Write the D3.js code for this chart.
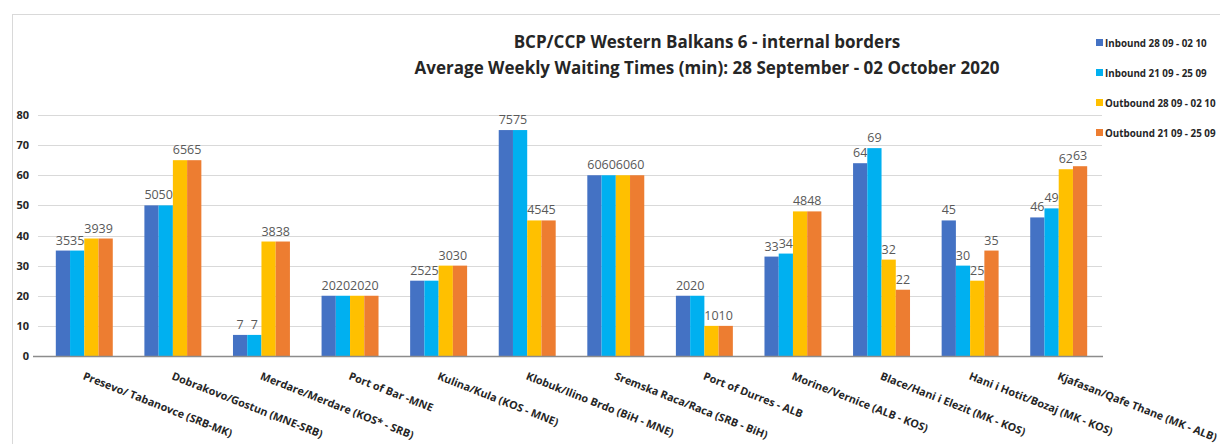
<!DOCTYPE html>
<html>
<head>
<meta charset="utf-8">
<script src="https://cdn.jsdelivr.net/npm/d3@7"></script>
<style>
  body { margin: 0; background: #fff; }
  text { font-family: "Open Sans", "Noto Sans", sans-serif; }
</style>
</head>
<body>
<div id="chart"></div>
<script>

var categories = [
    "Presevo/ Tabanovce (SRB-MK)",
    "Dobrakovo/Gostun (MNE-SRB)",
    "Merdare/Merdare (KOS* - SRB)",
    "Port of Bar -MNE",
    "Kulina/Kula (KOS - MNE)",
    "Klobuk/Ilino Brdo (BiH - MNE)",
    "Sremska Raca/Raca (SRB - BiH)",
    "Port of Durres - ALB",
    "Morine/Vernice (ALB - KOS)",
    "Blace/Hani i Elezit (MK - KOS)",
    "Hani i Hotit/Bozaj (MK - KOS)",
    "Kjafasan/Qafe Thane (MK - ALB)"
];

var seriesNames = [
    "Inbound 28 09 - 02 10",
    "Inbound 21 09 - 25 09",
    "Outbound 28 09 - 02 10",
    "Outbound 21 09 - 25 09"
];

var inbound1 = [35, 50, 7, 20, 25, 75, 60, 20, 33, 64, 45, 46];
var inbound2 = [35, 50, 7, 20, 25, 75, 60, 20, 34, 69, 30, 49];
var outbound1 = [39, 65, 38, 20, 30, 45, 60, 10, 48, 32, 25, 62];
var outbound2 = [39, 65, 38, 20, 30, 45, 60, 10, 48, 22, 35, 63];

var yTicks = [0, 10, 20, 30, 40, 50, 60, 70, 80];

var titleLines = [
    "BCP/CCP Western Balkans 6 - internal borders",
    "Average Weekly Waiting Times (min): 28 September - 02 October 2020"
];

var colors = ["#4472C4", "#00B0F0", "#FFC000", "#ED7D31"];

var width = 1220, height = 444;
var series = [inbound1, inbound2, outbound1, outbound2];

var svg = d3.select("#chart").append("svg")
    .attr("width", width)
    .attr("height", height);

// chart frame (only left and top edges visible)
svg.append("line")
    .attr("x1", 12.5).attr("x2", 12.5)
    .attr("y1", 14).attr("y2", height)
    .attr("stroke", "#d9d9d9");
svg.append("line")
    .attr("x1", 12).attr("x2", width)
    .attr("y1", 14.5).attr("y2", 14.5)
    .attr("stroke", "#d9d9d9");

var x0 = d3.scaleBand()
    .domain(categories)
    .range([40, 1103])
    .paddingInner(0.357)
    .paddingOuter(0.1785);

var x1 = d3.scaleBand()
    .domain(d3.range(series.length))
    .range([0, x0.bandwidth()]);

var y = d3.scaleLinear()
    .domain([0, 80])
    .range([356, 115]);

// gridlines
svg.append("g")
    .selectAll("line")
    .data(yTicks.slice(1))
    .enter().append("line")
    .attr("x1", 38).attr("x2", 1102)
    .attr("y1", function(d) { return Math.round(y(d)) + 0.5; })
    .attr("y2", function(d) { return Math.round(y(d)) + 0.5; })
    .attr("stroke", "#d9d9d9");

// y axis labels
var yAxis = d3.axisLeft(y)
    .tickValues(yTicks)
    .tickSize(0)
    .tickPadding(0);

svg.append("g")
    .attr("transform", "translate(29, 0)")
    .call(yAxis)
    .call(function(g) { g.select(".domain").remove(); })
    .selectAll("text")
    .attr("font-family", "Open Sans, sans-serif")
    .attr("font-size", 11)
    .attr("font-weight", "bold")
    .attr("fill", "#262626");

// bars
var groups = svg.append("g")
    .selectAll("g")
    .data(categories)
    .enter().append("g")
    .attr("transform", function(d) { return "translate(" + x0(d) + ",0)"; });

groups.selectAll("rect")
    .data(function(d, i) {
        return series.map(function(s, k) { return {k: k, v: s[i]}; });
    })
    .enter().append("rect")
    .attr("x", function(d) { return x1(d.k); })
    .attr("width", x1.bandwidth())
    .attr("y", function(d) { return y(d.v); })
    .attr("height", function(d) { return y(0) - y(d.v); })
    .attr("fill", function(d) { return colors[d.k]; });

groups.selectAll("text")
    .data(function(d, i) {
        return series.map(function(s, k) { return {k: k, v: s[i]}; });
    })
    .enter().append("text")
    .attr("x", function(d) { return x1(d.k) + x1.bandwidth() / 2; })
    .attr("y", function(d) { return y(d.v) - 6; })
    .attr("text-anchor", "middle")
    .attr("font-family", "Lato, sans-serif")
    .attr("font-size", 12.5)
    .attr("fill", "#595959")
    .text(function(d) { return d.v; });

// baseline
svg.append("line")
    .attr("x1", 33).attr("x2", 1103)
    .attr("y1", 356.5).attr("y2", 356.5)
    .attr("stroke", "#8c8c8c")
    .attr("stroke-width", 1.5);

// category labels
svg.append("g")
    .selectAll("text")
    .data(categories)
    .enter().append("text")
    .attr("transform", function(d) {
        return "translate(" + (x0(d) + x0.bandwidth() / 2 - 2) + ",379) rotate(21.5)";
    })
    .attr("font-family", "Lato, sans-serif")
    .attr("font-size", 10.8)
    .attr("font-weight", "bold")
    .attr("fill", "#262626")
    .text(function(d) { return d; });

// title
svg.append("g")
    .selectAll("text")
    .data(titleLines)
    .enter().append("text")
    .attr("x", 707)
    .attr("y", function(d, i) { return 48 + i * 26; })
    .attr("text-anchor", "middle")
    .attr("font-size", 17)
    .attr("font-weight", "bold")
    .attr("fill", "#262626")
    .text(function(d) { return d; });

// legend
var legend = svg.append("g")
    .selectAll("g")
    .data(seriesNames)
    .enter().append("g")
    .attr("transform", function(d, i) { return "translate(1096," + (43 + i * 30) + ")"; });

legend.append("rect")
    .attr("x", 0).attr("y", -4)
    .attr("width", 7).attr("height", 7)
    .attr("fill", function(d, i) { return colors[i]; });

legend.append("text")
    .attr("x", 9)
    .attr("y", 4)
    .attr("font-family", "Lato, sans-serif")
    .attr("font-size", 9.8)
    .attr("font-weight", "bold")
    .attr("fill", "#262626")
    .text(function(d) { return d; });

</script>
</body>
</html>
